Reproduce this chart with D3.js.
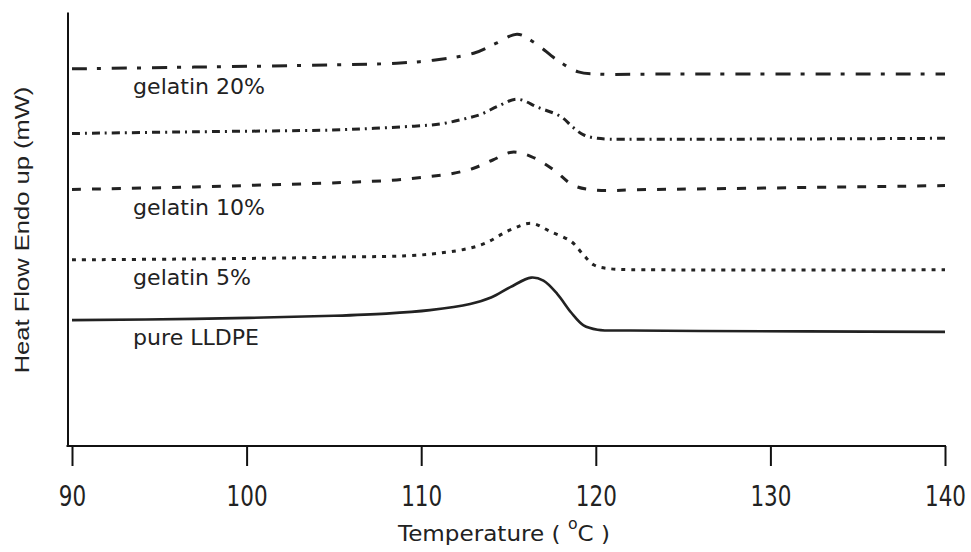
<!DOCTYPE html>
<html>
<head>
<meta charset="utf-8">
<script src="https://cdn.jsdelivr.net/npm/d3@7"></script>
<style>
  body { margin: 0; background: #fff; }
  text { fill: #222; }
</style>
</head>
<body>
<div id="chart"></div>
<script>
// DSC heating curves, LLDPE with gelatin, offset vertically
const xTicks = [90, 100, 110, 120, 130, 140];

const seriesNames = ["gelatin 20%", "", "gelatin 10%", "gelatin 5%", "pure LLDPE"];

const temps20 = [90, 97, 104.8, 108.6, 110.7, 113.0, 114.3, 115.5, 116.5, 117.8, 119.0, 120.1, 123.7, 140];
const heat20 = [8.69, 8.73, 8.78, 8.82, 8.89, 9.05, 9.28, 9.49, 9.29, 8.89, 8.62, 8.57, 8.57, 8.57];

const temps15 = [90, 97, 104.8, 107.3, 109.6, 111.1, 112.4, 113.4, 114.4, 115.5, 116.7, 118.0, 118.7, 119.3, 120.1, 123.7, 140];
const heat15 = [7.20, 7.24, 7.28, 7.32, 7.37, 7.42, 7.53, 7.64, 7.83, 7.99, 7.80, 7.59, 7.34, 7.17, 7.09, 7.07, 7.09];

const temps10 = [90, 97, 105.4, 108.6, 110.5, 111.8, 113.0, 114.1, 115.2, 116.3, 117.6, 118.7, 119.9, 123.1, 140];
const heat10 = [5.91, 5.97, 6.07, 6.13, 6.21, 6.28, 6.40, 6.59, 6.77, 6.67, 6.36, 6.01, 5.90, 5.91, 6.00];

const temps5 = [90, 97, 104.8, 110.5, 113.4, 115.1, 116.3, 117.4, 118.6, 119.3, 119.9, 120.7, 123.7, 140];
const heat5 = [4.29, 4.31, 4.35, 4.42, 4.63, 4.98, 5.13, 4.94, 4.71, 4.40, 4.17, 4.09, 4.06, 4.06];

const temps0 = [90, 97, 105, 108, 110.5, 112.8, 114.0, 115.1, 116.3, 117.0, 117.8, 118.6, 119.3, 120.1, 122, 126, 132, 140];
const heat0 = [2.90, 2.93, 3.00, 3.05, 3.13, 3.27, 3.42, 3.66, 3.88, 3.81, 3.50, 3.07, 2.78, 2.68, 2.66, 2.65, 2.64, 2.63];

const seriesTemps = [temps20, temps15, temps10, temps5, temps0];
const seriesHeat = [heat20, heat15, heat10, heat5, heat0];

// line styles, one per series
const dashes = ["15,10,4,11", "8,5,2,5", "9,11", "4,6", null];

const W = 971, H = 552;
const x = d3.scaleLinear().domain([90, 140]).range([72, 945]);
const y = d3.scaleLinear().domain([0, 10]).range([446, 12]);

const svg = d3.select("#chart")
  .append("svg")
  .attr("width", W)
  .attr("height", H);

// Y axis (no ticks)
svg.append("g")
  .attr("transform", "translate(67.5,0)")
  .call(d3.axisLeft(y).tickValues([]).tickSizeOuter(0))
  .select(".domain")
  .attr("stroke", "#111")
  .attr("stroke-width", 2);

// X axis
const xAxis = svg.append("g")
  .attr("transform", `translate(0,${y(0)})`)
  .call(d3.axisBottom(x).tickValues(xTicks).tickSize(20).tickSizeOuter(0));

xAxis.select(".domain").remove();
xAxis.append("line")
  .attr("x1", 66.5)
  .attr("x2", x(140) + 1)
  .attr("stroke", "#111")
  .attr("stroke-width", 2);
xAxis.selectAll(".tick line")
  .attr("stroke", "#111")
  .attr("stroke-width", 2);
xAxis.selectAll(".tick text")
  .attr("y", null)
  .attr("dy", null)
  .attr("transform", "translate(0,60) scale(1,1.33)")
  .attr("fill", "#222")
  .style("font-family", "DejaVu Sans")
  .style("font-size", "21.5px");

// curves
const line = d3.line()
  .x((d) => x(d[0]))
  .y((d) => y(d[1]))
  .curve(d3.curveCatmullRom.alpha(0.5));

seriesNames.forEach((name, i) => {
  const pts = seriesTemps[i].map((t, j) => [t, seriesHeat[i][j]]);
  svg.append("path")
    .datum(pts)
    .attr("d", line)
    .attr("fill", "none")
    .attr("stroke", "#222")
    .attr("stroke-width", i === 4 ? 2.6 : 3)
    .attr("stroke-dasharray", dashes[i]);

  if (name) {
    svg.append("text")
      .attr("transform", `translate(${x(93.5)},${y(seriesHeat[i][0]) + 25}) scale(1.05,1)`)
      .style("font-family", "DejaVu Sans")
      .style("font-size", "21px")
      .text(name);
  }
});

// axis titles
const xt = svg.append("text")
  .attr("transform", "translate(504,541) scale(1.05,1)")
  .attr("text-anchor", "middle")
  .style("font-family", "DejaVu Sans")
  .style("font-size", "22px");
xt.append("tspan").text("Temperature ( ");
xt.append("tspan").attr("dy", -12).style("font-size", "15px").text("o");
xt.append("tspan").attr("dy", 12).text("C )");

svg.append("text")
  .attr("transform", "translate(29,230) rotate(-90) scale(1.31,1)")
  .attr("text-anchor", "middle")
  .style("font-family", "Liberation Sans")
  .style("font-size", "19.5px")
  .text("Heat Flow Endo up (mW)");
</script>
</body>
</html>
